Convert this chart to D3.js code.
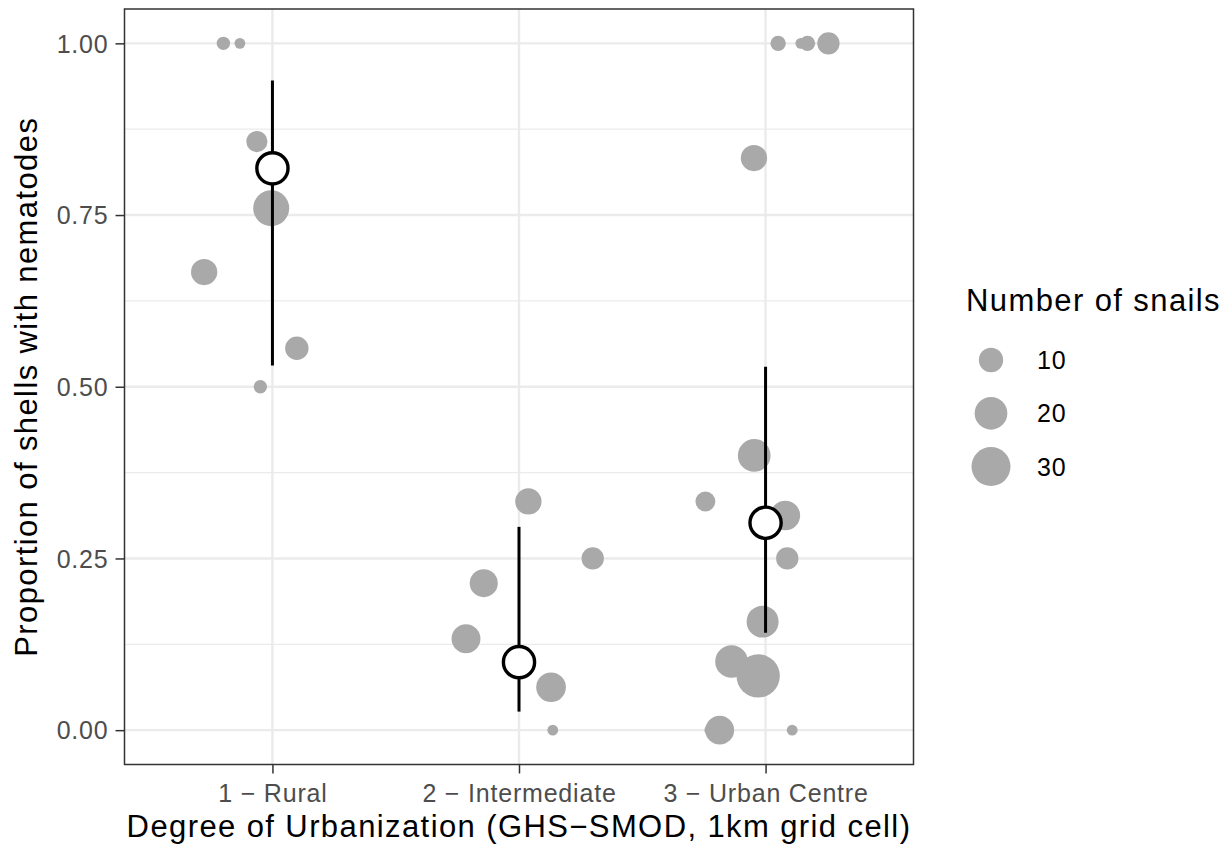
<!DOCTYPE html>
<html>
<head>
<meta charset="utf-8">
<script src="https://cdn.jsdelivr.net/npm/d3@7"></script>
<style>
  body { margin: 0; background: #fff; }
  text { font-family: "Liberation Sans", Arial, sans-serif; }
</style>
</head>
<body>
<svg id="chart" width="1227" height="850"></svg>
<script>
// categories on the x axis
const categories = ["1 \u2212 Rural", "2 \u2212 Intermediate", "3 \u2212 Urban Centre"];

// one entry per site: group (1..3), proportion, number of snails, horizontal jitter
const siteGroup  = [1, 1, 1, 1, 1, 1, 1,
                    2, 2, 2, 2, 2, 2,
                    3, 3, 3, 3, 3, 3, 3, 3, 3, 3, 3, 3, 3, 3, 3];
const siteProp   = [1.0, 1.0, 0.857, 0.76, 0.667, 0.556, 0.5,
                    0.333, 0.25, 0.214, 0.133, 0.0625, 0,
                    1.0, 1.0, 1.0, 1.0, 0.833, 0.4, 0.333, 0.3125, 0.25, 0.158, 0.1, 0.079, 0, 0, 0];
const siteN      = [2, 1, 7, 25, 12, 9, 2,
                    12, 8, 14, 15, 16, 1,
                    3, 1, 3, 8, 12, 20, 6, 16, 8, 19, 20, 38, 15, 1, 1];
const siteJitter = [-0.199, -0.132, -0.063, -0.005, -0.277, 0.099, -0.049,
                    0.038, 0.299, -0.143, -0.215, 0.130, 0.137,
                    0.051, 0.143, 0.170, 0.255, -0.047, -0.046, -0.244, 0.080, 0.088, -0.012, -0.138, -0.030, -0.186, -0.226, 0.108];

// estimate and interval per category
const meanProp = [0.818, 0.099, 0.302];
const lowProp  = [0.531, 0.027, 0.142];
const highProp = [0.946, 0.296, 0.529];

const yTicks = [0, 0.25, 0.5, 0.75, 1];
const yMinor = [0.125, 0.375, 0.625, 0.875];
const sizeBreaks = [10, 20, 30];

const panel = {left: 124.5, right: 913.5, top: 9, bottom: 764.5};
const svg = d3.select("#chart");

const x = d3.scaleLinear().domain([0.4, categories.length + 0.6]).range([panel.left, panel.right]);
const y = d3.scaleLinear().domain([-0.05, 1.05]).range([panel.bottom, panel.top]);
const r = d3.scaleSqrt().domain([0, 30]).range([2.24, 19.5]);

const sites = siteGroup.map((g, i) => ({g: g, p: siteProp[i], n: siteN[i], j: siteJitter[i]}));

// grid
const grid = svg.append("g");
grid.selectAll(".minor").data(yMinor).enter().append("line")
    .attr("x1", panel.left).attr("x2", panel.right)
    .attr("y1", d => y(d)).attr("y2", d => y(d))
    .attr("stroke", "#ebebeb").attr("stroke-width", 1.3);
grid.selectAll(".major").data(yTicks).enter().append("line")
    .attr("x1", panel.left).attr("x2", panel.right)
    .attr("y1", d => y(d)).attr("y2", d => y(d))
    .attr("stroke", "#ebebeb").attr("stroke-width", 2.4);
grid.selectAll(".vmajor").data(categories).enter().append("line")
    .attr("x1", (d, i) => x(i + 1)).attr("x2", (d, i) => x(i + 1))
    .attr("y1", panel.top).attr("y2", panel.bottom)
    .attr("stroke", "#ebebeb").attr("stroke-width", 2.4);

// site points
svg.append("g").selectAll("circle").data(sites).enter().append("circle")
    .attr("cx", d => x(d.g + d.j))
    .attr("cy", d => y(d.p))
    .attr("r", d => r(d.n))
    .attr("fill", "#a9a9a9");

// intervals and estimates
const summ = svg.append("g");
summ.selectAll("line").data(meanProp).enter().append("line")
    .attr("x1", (d, i) => x(i + 1)).attr("x2", (d, i) => x(i + 1))
    .attr("y1", (d, i) => y(lowProp[i])).attr("y2", (d, i) => y(highProp[i]))
    .attr("stroke", "#000").attr("stroke-width", 3);
summ.selectAll("circle").data(meanProp).enter().append("circle")
    .attr("cx", (d, i) => x(i + 1))
    .attr("cy", d => y(d))
    .attr("r", 15.6)
    .attr("fill", "#fff").attr("stroke", "#000").attr("stroke-width", 3.4);

// panel border
svg.append("rect")
    .attr("x", panel.left).attr("y", panel.top)
    .attr("width", panel.right - panel.left).attr("height", panel.bottom - panel.top)
    .attr("fill", "none").attr("stroke", "#333").attr("stroke-width", 1.5);

// axes
const yAxis = svg.append("g")
    .attr("transform", `translate(${panel.left},0)`)
    .call(d3.axisLeft(y).tickValues(yTicks).tickFormat(d3.format(".2f")).tickSize(9).tickPadding(7));
const xAxis = svg.append("g")
    .attr("transform", `translate(0,${panel.bottom})`)
    .call(d3.axisBottom(x).tickValues([1, 2, 3]).tickFormat(d => categories[d - 1]).tickSize(9).tickPadding(9));
[yAxis, xAxis].forEach(a => {
    a.select(".domain").remove();
    a.selectAll(".tick line").attr("stroke", "#333").attr("stroke-width", 1.5);
    a.selectAll(".tick text")
        .attr("fill", "#4d4d4d")
        .style("font-size", "25px")
        .style("letter-spacing", "0.8px")
        .style("font-family", '"Liberation Sans", Arial, sans-serif');
});
yAxis.selectAll(".tick text").attr("dy", "0.35em");
xAxis.selectAll(".tick text").attr("dy", "0.78em");

// axis titles
svg.append("text")
    .attr("x", (panel.left + panel.right) / 2).attr("y", 837)
    .attr("text-anchor", "middle")
    .style("font-size", "31px").style("letter-spacing", "1.4px")
    .text("Degree of Urbanization (GHS\u2212SMOD, 1km grid cell)");
svg.append("text")
    .attr("transform", `translate(37,${(panel.top + panel.bottom) / 2}) rotate(-90)`)
    .attr("text-anchor", "middle")
    .style("font-size", "31px").style("letter-spacing", "1.4px")
    .text("Proportion of shells with nematodes");

// size legend
const leg = svg.append("g");
leg.append("text")
    .attr("x", 966).attr("y", 311)
    .style("font-size", "31px").style("letter-spacing", "1.4px")
    .text("Number of snails");
const key = leg.selectAll(".key").data(sizeBreaks).enter().append("g")
    .attr("transform", (d, i) => `translate(991,${360 + i * 53.3})`);
key.append("circle").attr("r", d => r(d)).attr("fill", "#a9a9a9");
key.append("text")
    .attr("x", 46).attr("dy", "0.36em")
    .style("font-size", "25px").style("letter-spacing", "0.8px")
    .text(d => d);
</script>
</body>
</html>
